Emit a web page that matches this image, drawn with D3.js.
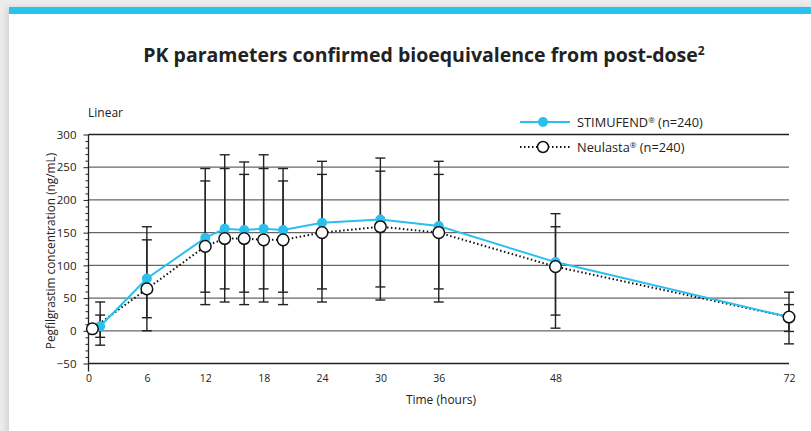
<!DOCTYPE html>
<html>
<head>
	<meta charset="utf-8">
	<title>PK parameters</title>
	<style>
	body { margin: 0; background: #ececec; }
	#card {
		position: absolute; left: 9px; top: 7px; width: 802px; height: 424px;
		background: #fff; border-top: 7px solid #27c2ee;
		box-shadow: -3px 0 6px rgba(0,0,0,0.10);
	}
	svg { position: absolute; left: 0; top: 0; font-family: 'Open Sans', sans-serif; }
	</style>
	<script src="https://cdn.jsdelivr.net/npm/d3@7"></script>
</head>
<body>
<div id="card"></div>
<script>
	// 資料
	let stimufendHours = [1.2, 6, 12, 14, 16, 18, 20, 24, 30, 36, 48, 72];
	let neulastaHours  = [0.4, 6, 12, 14, 16, 18, 20, 24, 30, 36, 48, 72];
	let stimufend = [7, 80, 142, 156, 154, 156, 154, 165, 170, 160, 105, 21];
	let neulasta  = [3, 64, 129, 141, 141, 139, 139, 150, 159, 150, 98, 21];
	// 誤差線（外側 / 內側）
	let barOuterHigh = [44, 159, 248, 269, 258, 269, 248, 259, 264, 259, 179, 59];
	let barOuterLow  = [-22, 0, 40, 44, 40, 44, 40, 44, 47, 44, 4, -20];
	let barInnerHigh = [24, 139, 229, 248, 239, 248, 229, 239, 244, 239, 159, 40];
	let barInnerLow  = [-10, 20, 59, 64, 59, 64, 59, 64, 67, 64, 24, -1];
	let xTicks = [0, 6, 12, 18, 24, 30, 36, 48, 72];
	let yTicks = [-50, 0, 50, 100, 150, 200, 250, 300];

	let W = 811, H = 431;
	let svg = d3.select('body').append('svg').attr('width', W).attr('height', H);

	let x = d3.scaleLinear().domain([0, 72]).range([88.5, 789]);
	let y = d3.scaleLinear().domain([-50, 300]).range([363.5, 134.5]);

	// 標題
	svg.append('text').attr('x', 424).attr('y', 62).attr('text-anchor', 'middle')
		.style('font-size', '19.5px').style('font-weight', 'bold').style('fill', '#222')
		.text('PK parameters confirmed bioequivalence from post-dose')
		.append('tspan').attr('dy', -7).style('font-size', '12px').text('2');

	svg.append('text').attr('x', 88).attr('y', 117).style('font-size', '12px').style('fill', '#222').text('Linear');

	// 格線
	svg.selectAll('line.grid').data(yTicks).enter().append('line').attr('class', 'grid')
		.attr('x1', x(0)).attr('x2', x(72))
		.attr('y1', d => y(d)).attr('y2', d => y(d))
		.attr('stroke', d => (d === 300 || d === -50) ? '#222' : '#666')
		.attr('stroke-width', 1.3);

	// Y 軸
	let yAxis = d3.axisLeft(y).tickValues(yTicks).tickSize(5).tickPadding(7);
	let gy = svg.append('g').attr('transform', 'translate(' + x(0) + ',0)').call(yAxis);
	gy.select('.domain').remove();
	gy.selectAll('line').attr('stroke', '#222');
	gy.selectAll('text').style('font-size', '11.5px').style('fill', '#222').style('font-family', "'Open Sans', sans-serif");
	let gyMinor = svg.append('g').attr('transform', 'translate(' + x(0) + ',0)')
		.call(d3.axisLeft(y).tickValues(d3.range(-40, 300, 10).filter(v => v % 50 !== 0)).tickSize(3).tickFormat(''));
	gyMinor.select('.domain').remove();
	gyMinor.selectAll('line').attr('stroke', '#222');
	svg.append('line').attr('x1', x(0)).attr('x2', x(0)).attr('y1', y(300)).attr('y2', y(-50) + 8)
		.attr('stroke', '#222').attr('stroke-width', 1.3);

	// X 軸
	let gx = svg.append('g').attr('transform', 'translate(0,' + y(-50) + ')')
		.call(d3.axisBottom(x).tickValues(xTicks).tickSize(0).tickPadding(11));
	gx.select('.domain').remove();
	gx.selectAll('text').style('font-size', '10.5px').style('fill', '#222').style('font-family', "'Open Sans', sans-serif");

	svg.append('text').attr('x', 441).attr('y', 404).attr('text-anchor', 'middle')
		.style('font-size', '12px').style('fill', '#222').text('Time (hours)');
	svg.append('text').attr('transform', 'translate(55,' + 251 + ') rotate(-90)').attr('text-anchor', 'middle')
		.style('font-size', '11.8px').style('fill', '#222').text('Pegfilgrastim concentration (ng/mL)');

	// 誤差線
	function errBars(lo, hi) {
		let g = svg.append('g').attr('stroke', '#222').attr('stroke-width', 1.4);
		stimufendHours.forEach(function(t, i) {
			let cx = x(t);
			g.append('line').attr('x1', cx).attr('x2', cx).attr('y1', y(lo[i])).attr('y2', y(hi[i]));
			g.append('line').attr('x1', cx - 5).attr('x2', cx + 5).attr('y1', y(lo[i])).attr('y2', y(lo[i]));
			g.append('line').attr('x1', cx - 5).attr('x2', cx + 5).attr('y1', y(hi[i])).attr('y2', y(hi[i]));
		});
	}
	errBars(barOuterLow, barOuterHigh);
	errBars(barInnerLow, barInnerHigh);

	let blue = '#2ac0ee';
	let lineS = d3.line().x((d, i) => x(stimufendHours[i])).y(d => y(d));
	let lineN = d3.line().x((d, i) => x(neulastaHours[i])).y(d => y(d));

	svg.append('path').datum(neulasta).attr('d', lineN).attr('fill', 'none')
		.attr('stroke', '#111').attr('stroke-width', 2).attr('stroke-dasharray', '1.5,2.5');
	svg.append('path').datum(stimufend).attr('d', lineS).attr('fill', 'none')
		.attr('stroke', blue).attr('stroke-width', 2);

	svg.selectAll('circle.s').data(stimufend).enter().append('circle').attr('class', 's')
		.attr('cx', (d, i) => x(stimufendHours[i])).attr('cy', d => y(d)).attr('r', 5).attr('fill', blue);
	svg.selectAll('circle.n').data(neulasta).enter().append('circle').attr('class', 'n')
		.attr('cx', (d, i) => x(neulastaHours[i])).attr('cy', d => y(d)).attr('r', 5.8)
		.attr('fill', '#fff').attr('stroke', '#111').attr('stroke-width', 1.5);

	// 圖例
	let leg = svg.append('g');
	leg.append('line').attr('x1', 520).attr('x2', 570).attr('y1', 122).attr('y2', 122).attr('stroke', blue).attr('stroke-width', 2);
	leg.append('circle').attr('cx', 543).attr('cy', 122).attr('r', 5).attr('fill', blue);
	leg.append('line').attr('x1', 520).attr('x2', 570).attr('y1', 147).attr('y2', 147)
		.attr('stroke', '#111').attr('stroke-width', 2).attr('stroke-dasharray', '1.5,2.5');
	leg.append('circle').attr('cx', 543).attr('cy', 147).attr('r', 5.5).attr('fill', '#fff').attr('stroke', '#111').attr('stroke-width', 1.5);
	let lt1 = leg.append('text').attr('x', 577).attr('y', 126.5).style('font-size', '12.8px').style('fill', '#222');
	lt1.append('tspan').text('STIMUFEND');
	lt1.append('tspan').attr('dy', -4).style('font-size', '8px').text('®');
	lt1.append('tspan').attr('dy', 4).text(' (n=240)');
	let lt2 = leg.append('text').attr('x', 577).attr('y', 151.5).style('font-size', '12.8px').style('fill', '#222');
	lt2.append('tspan').text('Neulasta');
	lt2.append('tspan').attr('dy', -4).style('font-size', '8px').text('®');
	lt2.append('tspan').attr('dy', 4).text(' (n=240)');
</script>
</body>
</html>
